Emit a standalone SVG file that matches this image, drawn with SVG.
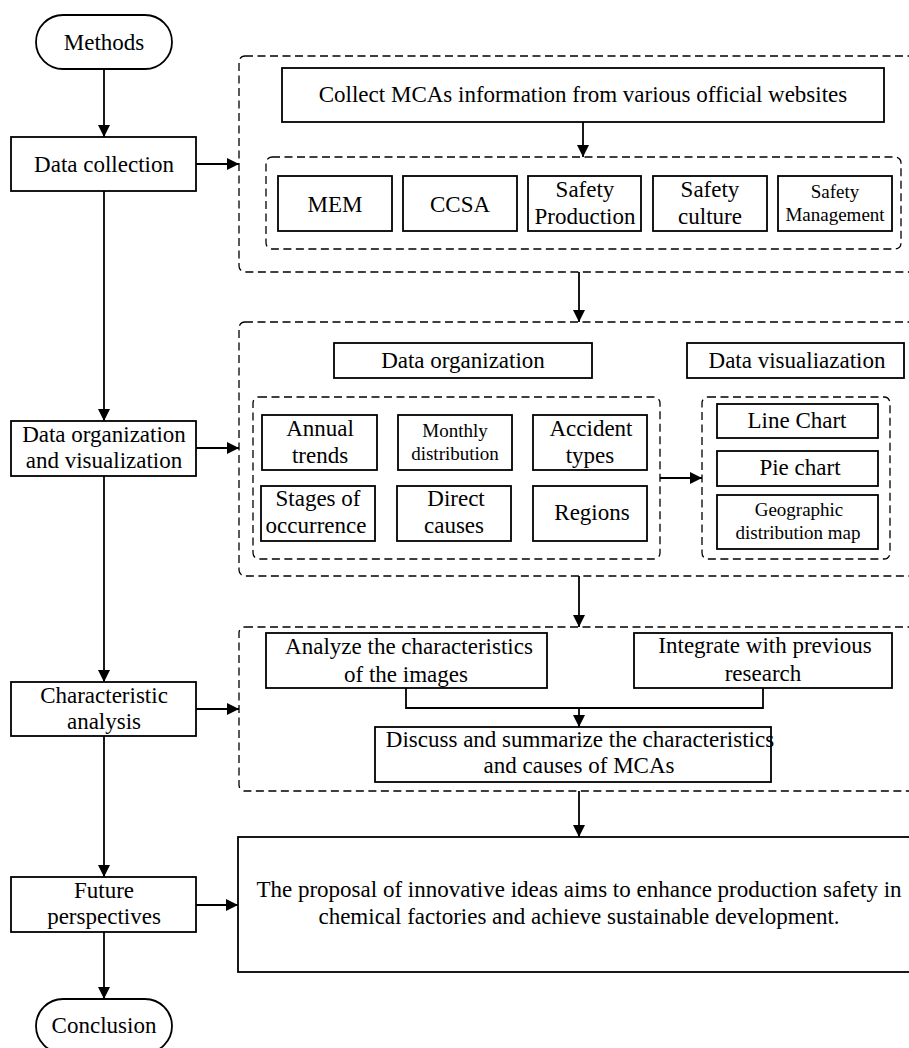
<svg xmlns="http://www.w3.org/2000/svg" width="909" height="1048" viewBox="0 0 909 1048">
<defs>
<marker id="ah" viewBox="0 0 12 12" refX="12" refY="6" markerWidth="12" markerHeight="12" markerUnits="userSpaceOnUse" orient="auto">
<path d="M0,0 L12,6 L0,12 Z" fill="#000"/>
</marker>
<style>
text{font-family:"Liberation Serif","Times New Roman",serif;font-size:23px;fill:#000;text-anchor:middle}
.s{font-size:19px}
.box{fill:#fff;stroke:#000;stroke-width:1.8}
.dash{fill:none;stroke:#000;stroke-width:1.3;stroke-dasharray:8 4.5}
.ln{fill:none;stroke:#000;stroke-width:1.8}
.ar{fill:none;stroke:#000;stroke-width:1.8;marker-end:url(#ah)}
</style>
</defs>
<rect width="909" height="1048" fill="#fff"/>

<g id="containers">
<rect id="dc-group" class="dash" x="239" y="56" width="680" height="216" rx="6"/>
<rect id="dc-sources" class="dash" x="266" y="157" width="635" height="92" rx="6"/>
<rect id="dov-group" class="dash" x="239" y="322" width="680" height="254" rx="6"/>
<rect id="org-group" class="dash" x="253" y="397" width="407" height="162" rx="6"/>
<rect id="vis-group" class="dash" x="702" y="397" width="188" height="162" rx="6"/>
<rect id="ca-group" class="dash" x="239" y="627" width="680" height="164" rx="6"/>
</g>

<g id="connectors">
<path class="ar" d="M104,69 V137"/>
<path class="ar" d="M104,191 V421"/>
<path class="ar" d="M104,476 V682"/>
<path class="ar" d="M104,736 V877"/>
<path class="ar" d="M104,932 V999"/>
<path class="ar" d="M196,164 H239"/>
<path class="ar" d="M196,448 H239"/>
<path class="ar" d="M196,709 H239"/>
<path class="ar" d="M196,905 H238"/>
<path class="ar" d="M583,122 V157"/>
<path class="ar" d="M579,272 V322"/>
<path class="ar" d="M660,478 H702"/>
<path class="ar" d="M579,576 V627"/>
<path class="ln" d="M406,688 V708 H763 V688"/>
<path class="ar" d="M579,708 V727"/>
<path class="ar" d="M579,791 V837"/>
</g>

<g id="methods">
<rect class="box" x="36" y="15" width="136" height="54" rx="27"/>
<text x="104" y="50">Methods</text>
</g>
<g id="data-collection">
<rect class="box" x="11" y="137" width="185" height="54"/>
<text x="104" y="172">Data collection</text>
</g>
<g id="data-org-vis">
<rect class="box" x="11" y="421" width="185" height="55"/>
<text x="104" y="442">Data organization</text>
<text x="104" y="468">and visualization</text>
</g>
<g id="char-analysis">
<rect class="box" x="11" y="682" width="185" height="54"/>
<text x="104" y="703">Characteristic</text>
<text x="104" y="729">analysis</text>
</g>
<g id="future">
<rect class="box" x="11" y="877" width="185" height="55"/>
<text x="104" y="898">Future</text>
<text x="104" y="924">perspectives</text>
</g>
<g id="conclusion">
<rect class="box" x="36" y="999" width="136" height="54" rx="27"/>
<text x="104" y="1033">Conclusion</text>
</g>

<g id="collect">
<rect class="box" x="282" y="68" width="602" height="54"/>
<text x="583" y="102">Collect MCAs information from various official websites</text>
</g>
<g id="mem">
<rect class="box" x="278" y="176" width="114" height="55"/>
<text x="335" y="212">MEM</text>
</g>
<g id="ccsa">
<rect class="box" x="403" y="176" width="114" height="55"/>
<text x="460" y="212">CCSA</text>
</g>
<g id="safety-production">
<rect class="box" x="528" y="176" width="113" height="55"/>
<text x="585" y="197">Safety</text>
<text x="585" y="224">Production</text>
</g>
<g id="safety-culture">
<rect class="box" x="653" y="176" width="114" height="55"/>
<text x="710" y="197">Safety</text>
<text x="710" y="224">culture</text>
</g>
<g id="safety-management">
<rect class="box" x="778" y="176" width="114" height="55"/>
<text class="s" x="835" y="198">Safety</text>
<text class="s" x="835" y="221">Management</text>
</g>

<g id="data-organization">
<rect class="box" x="334" y="343" width="258" height="35"/>
<text x="463" y="368">Data organization</text>
</g>
<g id="data-visualization">
<rect class="box" x="687" y="343" width="217" height="35"/>
<text x="797" y="368">Data visualiazation</text>
</g>
<g id="annual">
<rect class="box" x="262" y="415" width="115" height="55"/>
<text x="320" y="436">Annual</text>
<text x="320" y="463">trends</text>
</g>
<g id="monthly">
<rect class="box" x="398" y="415" width="114" height="55"/>
<text class="s" x="455" y="437">Monthly</text>
<text class="s" x="455" y="460">distribution</text>
</g>
<g id="accident-types">
<rect class="box" x="533" y="415" width="114" height="55"/>
<text x="591" y="436">Accident</text>
<text x="590" y="463">types</text>
</g>
<g id="stages">
<rect class="box" x="261" y="486" width="114" height="55"/>
<text x="318" y="506">Stages of</text>
<text x="316" y="533">occurrence</text>
</g>
<g id="direct-causes">
<rect class="box" x="397" y="486" width="114" height="55"/>
<text x="456" y="506">Direct</text>
<text x="454" y="533">causes</text>
</g>
<g id="regions">
<rect class="box" x="533" y="486" width="114" height="55"/>
<text x="592" y="520">Regions</text>
</g>
<g id="line-chart">
<rect class="box" x="717" y="404" width="161" height="34"/>
<text x="797" y="428">Line Chart</text>
</g>
<g id="pie-chart">
<rect class="box" x="717" y="451" width="161" height="35"/>
<text x="800" y="475">Pie chart</text>
</g>
<g id="geo-map">
<rect class="box" x="717" y="495" width="161" height="54"/>
<text class="s" x="799" y="516">Geographic</text>
<text class="s" x="798" y="539">distribution map</text>
</g>

<g id="analyze">
<rect class="box" x="266" y="633" width="281" height="55"/>
<text x="409" y="654">Analyze the characteristics</text>
<text x="406" y="682">of the images</text>
</g>
<g id="integrate">
<rect class="box" x="634" y="633" width="258" height="55"/>
<text x="765" y="653">Integrate with previous</text>
<text x="763" y="681">research</text>
</g>
<g id="discuss">
<rect class="box" x="375" y="727" width="396" height="55"/>
<text x="580" y="747">Discuss and summarize the characteristics</text>
<text x="579" y="773">and causes of MCAs</text>
</g>

<g id="proposal">
<rect class="box" x="238" y="837" width="682" height="135"/>
<text x="579" y="897">The proposal of innovative ideas aims to enhance production safety in</text>
<text x="579" y="924">chemical factories and achieve sustainable development.</text>
</g>
</svg>
